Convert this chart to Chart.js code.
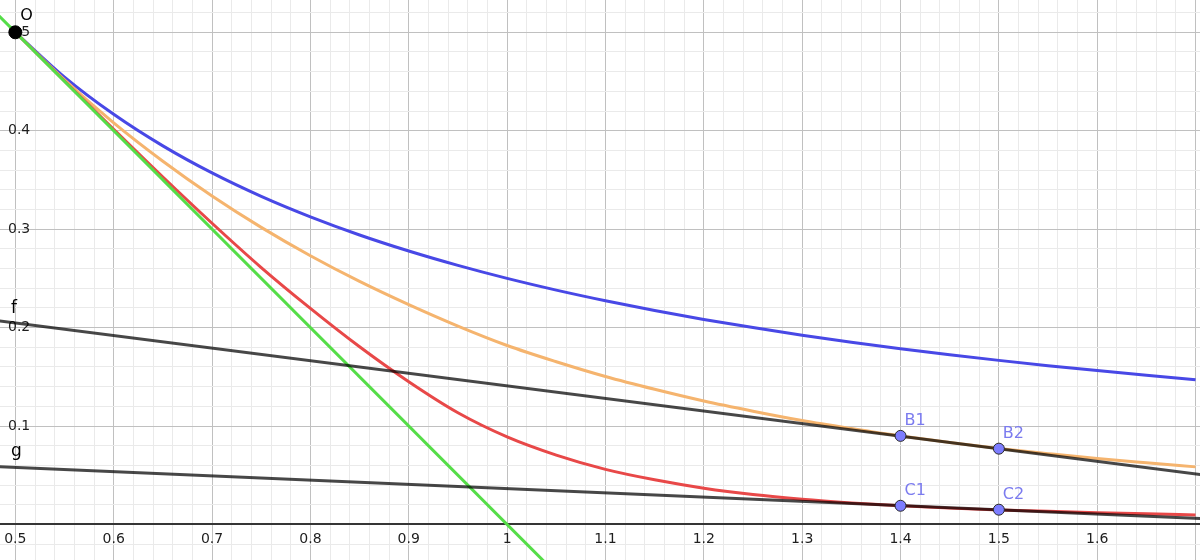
<!DOCTYPE html>
<html>
<head>
<meta charset="utf-8">
<script src="https://cdn.jsdelivr.net/npm/chart.js@4/dist/chart.umd.min.js"></script>
<style>
  html, body { margin: 0; padding: 0; background: #ffffff; overflow: hidden; }
  #wrap { width: 1200px; height: 560px; }
</style>
</head>
<body>
<div id="wrap"><canvas id="c" width="1200" height="560"></canvas></div>
<script>
// ---- data ----
const xs      = [0.5, 0.55, 0.6, 0.65, 0.7, 0.75, 0.8, 0.85, 0.9, 0.95, 1.0, 1.05, 1.1, 1.15, 1.2, 1.25, 1.3, 1.35, 1.4, 1.45, 1.5, 1.55, 1.6, 1.65, 1.7];
const blueY   = [0.5, 0.4545, 0.4167, 0.3846, 0.3571, 0.3333, 0.3125, 0.2941, 0.2778, 0.2632, 0.25, 0.2381, 0.2273, 0.2174, 0.2083, 0.2, 0.1923, 0.1852, 0.1786, 0.1724, 0.1667, 0.1613, 0.1563, 0.1515, 0.1471];
const orangeY = [0.5, 0.4517, 0.408, 0.369, 0.3337, 0.3018, 0.273, 0.2469, 0.2233, 0.2015, 0.1818, 0.1653, 0.1503, 0.1373, 0.1254, 0.1151, 0.1056, 0.0974, 0.0898, 0.0833, 0.0772, 0.0719, 0.0669, 0.0626, 0.0585];
const redY    = [0.5, 0.4505, 0.4015, 0.353, 0.306, 0.261, 0.2195, 0.1805, 0.145, 0.1135, 0.089, 0.0705, 0.056, 0.0454, 0.0369, 0.0304, 0.0256, 0.0219, 0.0189, 0.0166, 0.0148, 0.0133, 0.012, 0.0108, 0.0097];

const greenX = [0.47, 1.07];
const greenY = [0.53, -0.07];
const fX = [0.45, 1.75];
const fY = [0.211, 0.045];
const gX = [0.45, 1.75];
const gY = [0.060, 0.004];

const pointNames = ['O', 'B1', 'B2', 'C1', 'C2'];
const pointX     = [0.5, 1.4, 1.5, 1.4, 1.5];
const pointY     = [0.5, 0.090, 0.077, 0.019, 0.015];

const lineNames  = ['f', 'g'];

const xTickLabels = ['0.5','0.6','0.7','0.8','0.9','1','1.1','1.2','1.3','1.4','1.5','1.6'];
const yTickLabels = ['0.1','0.2','0.3','0.4','0.5'];

const xMin = 0.4844, xMax = 1.7045;
const yMin = -0.0361, yMax = 0.5328;

// ---- helpers ----
const pts = (X, Y) => X.map((x, i) => ({x: x, y: Y[i]}));
const isMajor = v => Math.abs(v * 10 - Math.round(v * 10)) < 1e-6;
const fmt = v => String(Math.round(v * 10) / 10);

const gridColor = ctx => (ctx.tick && isMajor(ctx.tick.value)) ? '#c0c0c0' : '#eaeaea';

const labelPlugin = {
  id: 'geoLabels',
  afterDatasetsDraw(chart) {
    const c = chart.ctx, sx = chart.scales.x, sy = chart.scales.y;
    c.save();
    c.font = '16px "DejaVu Sans"';
    c.textAlign = 'left';
    c.textBaseline = 'alphabetic';
    pointNames.forEach((n, i) => {
      const px = sx.getPixelForValue(pointX[i]);
      const py = sy.getPixelForValue(pointY[i]);
      if (n === 'O') {
        c.fillStyle = '#000000';
        c.fillText(n, px + 5, py - 12);
      } else {
        c.fillStyle = '#7b7bef';
        c.fillText(n, px + 4, py - 10.5);
      }
    });
    c.fillStyle = '#000000';
    c.font = '17px "DejaVu Sans"';
    const lx = sx.getPixelForValue(xMin);
    const fAt = fY[0] + (fY[1] - fY[0]) * (xMin - fX[0]) / (fX[1] - fX[0]);
    const gAt = gY[0] + (gY[1] - gY[0]) * (xMin - gX[0]) / (gX[1] - gX[0]);
    c.fillText(lineNames[0], lx + 11, sy.getPixelForValue(fAt) - 8);
    c.fillText(lineNames[1], lx + 11, sy.getPixelForValue(gAt) - 11);
    c.restore();
  }
};

new Chart(document.getElementById('c'), {
  type: 'line',
  data: {
    datasets: [
      { label: 'points', data: pts(pointX, pointY), showLine: false,
        pointRadius: [6.5, 5.5, 5.5, 5.5, 5.5],
        pointBackgroundColor: ['#000000', '#7d7dff', '#7d7dff', '#7d7dff', '#7d7dff'],
        pointBorderColor: ['#000000', '#2a2a2a', '#2a2a2a', '#2a2a2a', '#2a2a2a'],
        pointBorderWidth: 1 },
      { label: 'f', data: pts(fX, fY), borderColor: 'rgba(0,0,0,0.72)', borderWidth: 3, pointRadius: 0 },
      { label: 'g', data: pts(gX, gY), borderColor: 'rgba(0,0,0,0.72)', borderWidth: 3, pointRadius: 0 },
      { label: 'green', data: pts(greenX, greenY), borderColor: '#55dd48', borderWidth: 3, pointRadius: 0 },
      { label: 'red', data: pts(xs, redY), borderColor: '#e84848', borderWidth: 3, pointRadius: 0, cubicInterpolationMode: 'monotone' },
      { label: 'orange', data: pts(xs, orangeY), borderColor: '#f5b46e', borderWidth: 3, pointRadius: 0, cubicInterpolationMode: 'monotone' },
      { label: 'blue', data: pts(xs, blueY), borderColor: '#4848e6', borderWidth: 3, pointRadius: 0, cubicInterpolationMode: 'monotone' }
    ]
  },
  options: {
    responsive: false,
    animation: false,
    devicePixelRatio: 1,
    layout: { padding: 0, autoPadding: false },
    plugins: { legend: { display: false }, tooltip: { enabled: false } },
    elements: { line: { fill: false } },
    scales: {
      x: {
        type: 'linear', min: xMin, max: xMax,
        position: { y: 0 },
        grid: { color: gridColor, lineWidth: 1, drawTicks: false },
        border: { display: true, color: '#353535', width: 2 },
        ticks: {
          stepSize: 0.02, autoSkip: false, maxRotation: 0, minRotation: 0, includeBounds: false,
          padding: 6, color: '#1e1e1e', font: { family: 'DejaVu Sans', size: 14 },
          callback: v => { const s = fmt(v); return (isMajor(v) && xTickLabels.includes(s)) ? s : ''; }
        },
        afterFit: s => { s.paddingLeft = 0; s.paddingRight = 0; s.paddingTop = 0; s.paddingBottom = 0; }
      },
      y: {
        type: 'linear', min: yMin, max: yMax,
        position: 'left',
        grid: { color: gridColor, lineWidth: 1, drawTicks: false },
        border: { display: false },
        ticks: {
          stepSize: 0.02, autoSkip: false, includeBounds: false, mirror: true,
          padding: 8, color: '#1e1e1e', font: { family: 'DejaVu Sans', size: 14 },
          callback: v => { const s = fmt(v); return (isMajor(v) && yTickLabels.includes(s)) ? s : ''; }
        },
        afterFit: s => { s.width = 0; s.paddingTop = 0; s.paddingBottom = 0; s.paddingLeft = 0; s.paddingRight = 0; }
      }
    }
  },
  plugins: [labelPlugin]
});
</script>
</body>
</html>
